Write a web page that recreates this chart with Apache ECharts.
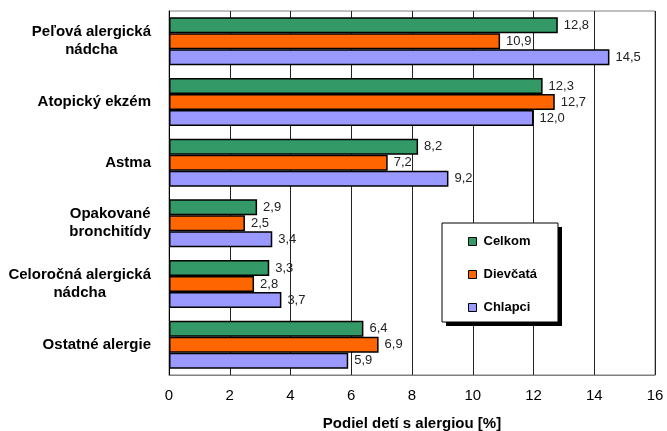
<!DOCTYPE html>
<html>
<head>
<meta charset="utf-8">
<script src="https://cdn.jsdelivr.net/npm/echarts@6/dist/echarts.min.js"></script>
<style>
  html, body { margin: 0; padding: 0; background: #fff; }
  #chart { width: 667px; height: 431px; }
</style>
</head>
<body>
<div id="chart"></div>
<script>
// Kategórie alergií (zhora nadol)
const categories = [
  'Peľová alergická\nnádcha',
  'Atopický ekzém',
  'Astma',
  'Opakované\nbronchitídy',
  'Celoročná alergická\nnádcha',
  'Ostatné alergie'
];

// Podiel detí s alergiou [%]
const celkom   = [12.8, 12.3, 8.2, 2.9, 3.3, 6.4];
const dievcata = [10.9, 12.7, 7.2, 2.5, 2.8, 6.9];
const chlapci  = [14.5, 12.0, 9.2, 3.4, 3.7, 5.9];

const seriesNames = ['Celkom', 'Dievčatá', 'Chlapci'];
const seriesColors = ['#339966', '#FF6600', '#9999FF'];
const seriesData = [celkom, dievcata, chlapci];

const xTicks = { min: 0, max: 16, interval: 2 };

const fontFamily = '"Liberation Sans", Arial, sans-serif';

// Legend box placement; the drop shadow is a plain black rectangle behind it
const legendBox = { left: 442, top: 223, width: 116, height: 99, shadow: 4 };

const chart = echarts.init(document.getElementById('chart'), null, { renderer: 'canvas' });

const option = {
  animation: false,
  backgroundColor: '#fff',
  textStyle: { fontFamily: fontFamily },
  grid: {
    left: 169, top: 11, right: 12, bottom: 56,
    outerBoundsMode: 'none',
    containLabel: false,
    show: true, borderColor: '#808080', borderWidth: 1, backgroundColor: '#fff'
  },
  graphic: [{
    type: 'rect',
    z: 3,
    silent: true,
    shape: {
      x: legendBox.left + legendBox.shadow,
      y: legendBox.top + legendBox.shadow,
      width: legendBox.width,
      height: legendBox.height
    },
    style: { fill: '#000' }
  }],
  legend: {
    orient: 'vertical',
    left: legendBox.left, top: legendBox.top,
    z: 5,
    data: seriesNames,
    icon: 'rect',
    itemWidth: 8, itemHeight: 8,
    itemGap: 20,
    padding: [12, 21, 8, 26],
    backgroundColor: '#fff',
    borderColor: '#000',
    borderWidth: 1,
    itemStyle: { borderColor: '#000', borderWidth: 1 },
    textStyle: { fontFamily: fontFamily, fontSize: 13, fontWeight: 'bold', color: '#000', padding: [0, 0, 0, 2] }
  },
  xAxis: {
    type: 'value',
    min: xTicks.min, max: xTicks.max, interval: xTicks.interval,
    name: 'Podiel detí s alergiou [%]',
    nameLocation: 'middle',
    nameGap: 41,
    nameTextStyle: { fontFamily: fontFamily, fontSize: 15, fontWeight: 'bold', color: '#000' },
    axisLine: { show: true, lineStyle: { color: '#808080', width: 1 } },
    axisTick: { show: false },
    axisLabel: { margin: 13, fontFamily: fontFamily, fontSize: 15, color: '#000' },
    splitLine: { show: true, lineStyle: { color: '#222', width: 1 } }
  },
  yAxis: {
    type: 'category',
    data: categories,
    inverse: true,
    axisLine: { show: true, lineStyle: { color: '#000', width: 1 } },
    axisTick: { show: false },
    splitLine: { show: false },
    axisLabel: {
      margin: 18,
      align: 'right',
      fontFamily: fontFamily,
      fontSize: 15,
      fontWeight: 'bold',
      color: '#000',
      formatter: function (v) {
        return v.split('\n').map(function (s) { return '{c|' + s + '}'; }).join('\n');
      },
      rich: {
        c: { align: 'center', fontFamily: fontFamily, fontSize: 15, fontWeight: 'bold', color: '#000', lineHeight: 18 }
      }
    }
  },
  series: seriesNames.map(function (name, i) {
    return {
      name: name,
      type: 'bar',
      data: seriesData[i],
      barGap: '0%',
      barCategoryGap: '21%',
      itemStyle: { color: seriesColors[i], borderColor: '#000', borderWidth: 1.5 },
      label: {
        show: true,
        position: 'right',
        distance: 6,
        fontFamily: fontFamily,
        fontSize: 13,
        color: '#222',
        formatter: function (p) { return p.value.toFixed(1).replace('.', ','); }
      }
    };
  })
};

chart.setOption(option);
</script>
</body>
</html>
